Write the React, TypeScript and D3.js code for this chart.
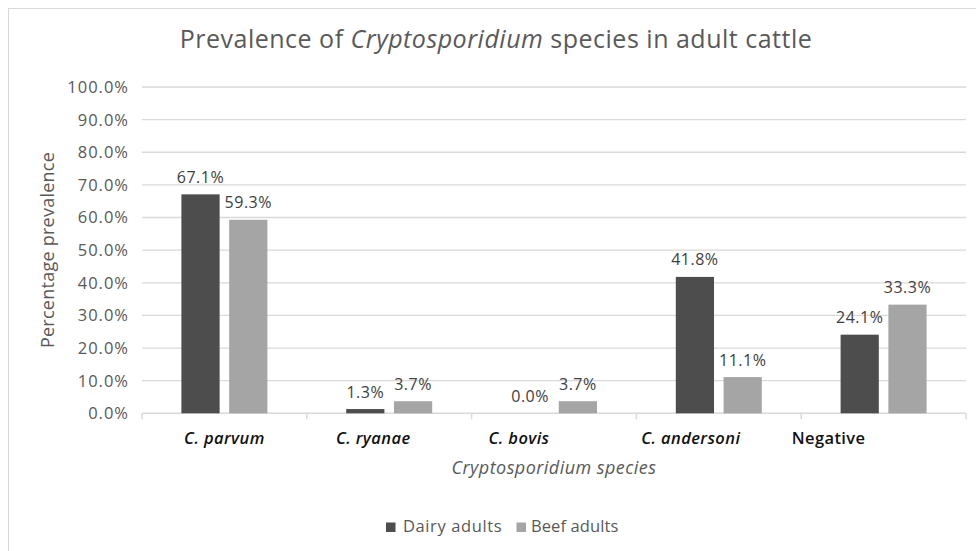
import React from "react";
import * as d3 from "d3";

const categories = ["C. parvum", "C. ryanae", "C. bovis", "C. andersoni", "Negative"];
const italicCategory = [true, true, true, true, false];
const seriesNames = ["Dairy adults", "Beef adults"];
const dairyValues = [67.1, 1.3, 0.0, 41.8, 24.1];
const beefValues = [59.3, 3.7, 3.7, 11.1, 33.3];
const yTicks = [0, 10, 20, 30, 40, 50, 60, 70, 80, 90, 100];

const W = 976;
const H = 551;
const FONT = "'Open Sans', 'Noto Sans', sans-serif";
const COLORS = ["#4d4d4d", "#a5a5a5"];
// label horizontal nudges (as in the original chart's layout)
const labelShift = [0, -16, -35, -28, -55];

export default function App() {
  const plot = { left: 142, right: 966, top: 87, bottom: 413.3 };
  const x0 = d3.scaleBand<string>().domain(categories).range([plot.left, plot.right]).padding(0);
  const x1 = d3.scaleBand<string>().domain(seriesNames).range([-43, 43]).paddingInner(0.2).paddingOuter(0);
  const y = d3.scaleLinear().domain([0, 100]).range([plot.bottom, plot.top]);
  const seriesValues = [dairyValues, beefValues];
  const fmt = (v: number) => v.toFixed(1) + "%";
  const boundaries = categories.map((c) => x0(c)!).concat([plot.right]);

  return (
    <svg width={W} height={H} style={{ position: "absolute", left: 0, top: 0, background: "#fff" }} fontFamily={FONT}>
      <rect x={8.5} y={8.5} width={W} height={H} fill="#fff" stroke="#d9d9d9" strokeWidth={1} />
      <text x={496} y={48} textAnchor="middle" fontSize={25} letterSpacing={0.5} fill="#595959">
        <tspan>Prevalence of </tspan>
        <tspan fontStyle="italic">Cryptosporidium</tspan>
        <tspan> species in adult cattle</tspan>
      </text>
      {yTicks.map((t) => (
        <g key={t}>
          {t > 0 && <line x1={plot.left} x2={plot.right} y1={y(t)} y2={y(t)} stroke="#d9d9d9" strokeWidth={1.3} />}
          <text x={129} y={y(t)} dy="0.36em" textAnchor="end" fontSize={16.5} letterSpacing={1} fill="#595959">
            {t.toFixed(1) + "%"}
          </text>
        </g>
      ))}
      <line x1={plot.left} x2={plot.right} y1={plot.bottom} y2={plot.bottom} stroke="#d9d9d9" strokeWidth={1.5} />
      {boundaries.map((b, i) => (
        <line key={i} x1={b} x2={b} y1={plot.bottom} y2={plot.bottom + 6} stroke="#d9d9d9" strokeWidth={1.5} />
      ))}
      {categories.map((c, ci) => {
        const cx = x0(c)! + x0.bandwidth() / 2;
        return (
          <g key={c}>
            {seriesNames.map((s, si) => {
              const v = seriesValues[si][ci];
              const bx = cx + x1(s)!;
              return (
                <g key={s}>
                  <rect x={bx} y={y(v)} width={x1.bandwidth()} height={plot.bottom - y(v)} fill={COLORS[si]} />
                  <text x={bx + x1.bandwidth() / 2} y={y(v) - 11.5} textAnchor="middle" fontSize={16} letterSpacing={0.5} fill="#404040">
                    {fmt(v)}
                  </text>
                </g>
              );
            })}
            <text
              x={cx + labelShift[ci]}
              y={444}
              textAnchor="middle"
              fontSize={16.5}
              letterSpacing={0.4}
              fontStyle={italicCategory[ci] ? "italic" : "normal"}
              fontWeight={600}
              fill="#111"
            >
              {c}
            </text>
          </g>
        );
      })}
      <text x={554} y={474} textAnchor="middle" fontSize={18} letterSpacing={0.45} fontStyle="italic" fill="#595959">
        Cryptosporidium species
      </text>
      <text
        transform={`translate(54, 250) rotate(-90)`}
        textAnchor="middle"
        fontSize={18}
        letterSpacing={0.25}
        fill="#595959"
      >
        Percentage prevalence
      </text>
      <g>
        <rect x={386} y={522.5} width={9.5} height={9.5} fill={COLORS[0]} />
        <text x={403} y={532} fontSize={16.5} letterSpacing={0.6} fill="#595959">{seriesNames[0]}</text>
        <rect x={516.5} y={522.5} width={9.5} height={9.5} fill={COLORS[1]} />
        <text x={531} y={532} fontSize={16.5} letterSpacing={0.1} fill="#595959">{seriesNames[1]}</text>
      </g>
    </svg>
  );
}
